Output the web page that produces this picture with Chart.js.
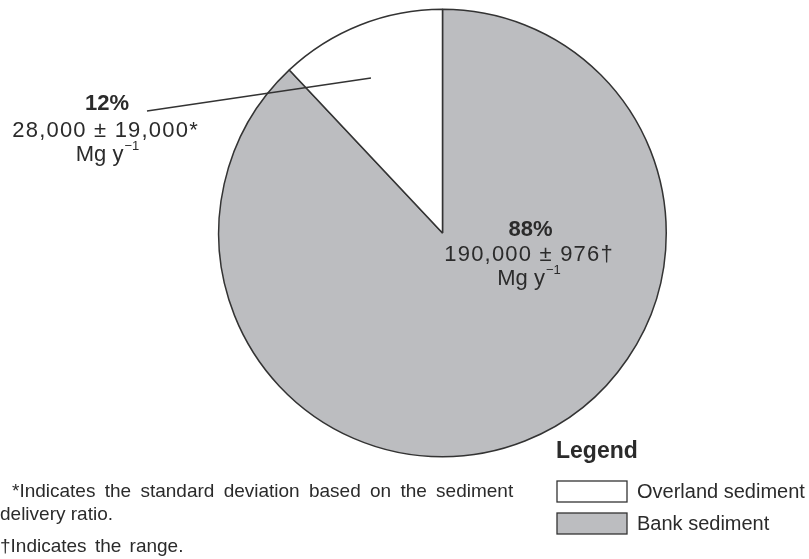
<!DOCTYPE html>
<html>
<head>
<meta charset="utf-8">
<script src="https://cdn.jsdelivr.net/npm/chart.js@4"></script>
<style>
  html, body { margin: 0; padding: 0; background: #fff; }
  #wrap { width: 809px; height: 559px; position: relative; }
</style>
</head>
<body>
<div id="wrap"><canvas id="graficoSedimento" width="809" height="559"></canvas></div>
<script>
// dados do gráfico (ordem no sentido horário a partir do topo)
const categorias = ['Bank sediment', 'Overland sediment'];
const percentuais = [88, 12];
const cargas = ['190,000 ± 976†', '28,000 ± 19,000*'];
const cores = ['#bcbdc0', '#ffffff'];
const legendaOrdem = ['Overland sediment', 'Bank sediment'];
const notas = ['*Indicates the standard deviation based on the sediment', 'delivery ratio.', '†Indicates the range.'];

const fonte = '"Liberation Sans", Arial, sans-serif';
const corTexto = '#2b2b2b';

// escreve "Mg y-1" com expoente menor
function unidade(ctx, cx, y, tam) {
  ctx.font = tam + 'px ' + fonte;
  const base = 'Mg y';
  const sup = '\u22121';
  const wBase = ctx.measureText(base).width;
  ctx.font = Math.round(tam * 0.6) + 'px ' + fonte;
  const wSup = ctx.measureText(sup).width;
  const x0 = cx - (wBase + wSup) / 2;
  ctx.textAlign = 'left';
  ctx.font = tam + 'px ' + fonte;
  ctx.fillText(base, x0, y);
  ctx.font = Math.round(tam * 0.6) + 'px ' + fonte;
  ctx.fillText(sup, x0 + wBase + 1, y - tam * 0.38);
  ctx.textAlign = 'center';
}

// texto com espaçamento extra entre letras
function espacado(ctx, txt, x, y, esp) {
  ctx.letterSpacing = esp + 'px';
  ctx.fillText(txt, x + esp / 2, y);
  ctx.letterSpacing = '0px';
}

const rotulos = {
  id: 'rotulos',
  afterDraw(chart) {
    const ctx = chart.ctx;
    const arco = chart.getDatasetMeta(0).data[0];
    const cx = arco.x, cy = arco.y;
    ctx.save();
    ctx.fillStyle = corTexto;
    ctx.textBaseline = 'middle';
    ctx.textAlign = 'center';

    // fatia grande
    ctx.font = 'bold 22px ' + fonte;
    ctx.fillText(percentuais[0] + '%', cx + 88, cy - 3);
    ctx.font = '22px ' + fonte;
    espacado(ctx, cargas[0], cx + 86, cy + 22, 1.2);
    unidade(ctx, cx + 86, cy + 46, 22);

    // fatia pequena com linha guia
    ctx.strokeStyle = '#333';
    ctx.lineWidth = 1.3;
    ctx.beginPath();
    ctx.moveTo(147, 111);
    ctx.lineTo(371, 78);
    ctx.stroke();
    ctx.font = 'bold 22px ' + fonte;
    ctx.fillText(percentuais[1] + '%', 107, 104);
    ctx.font = '22px ' + fonte;
    espacado(ctx, cargas[1], 105, 131, 1.2);
    unidade(ctx, 107, 155, 22);

    // notas de rodapé
    ctx.textAlign = 'left';
    ctx.font = '19px ' + fonte;
    ctx.wordSpacing = '4px';
    ctx.fillText(notas[0], 12, 492);
    ctx.wordSpacing = '0px';
    ctx.fillText(notas[1], 0, 515);
    ctx.wordSpacing = '3px';
    ctx.fillText(notas[2], 0, 547);
    ctx.wordSpacing = '0px';

    // legenda
    ctx.font = 'bold 23px ' + fonte;
    ctx.fillText('Legend', 556, 452);
    ctx.font = '20px ' + fonte;
    legendaOrdem.forEach((nome, i) => {
      const y = 481 + i * 32;
      ctx.fillStyle = cores[categorias.indexOf(nome)];
      ctx.fillRect(557, y, 70, 21);
      ctx.strokeStyle = '#333';
      ctx.lineWidth = 1.3;
      ctx.strokeRect(557, y, 70, 21);
      ctx.fillStyle = corTexto;
      ctx.fillText(nome, 637, y + 11);
    });
    ctx.restore();
  }
};

const ctx = document.getElementById('graficoSedimento').getContext('2d');
const meuGrafico = new Chart(ctx, {
  type: 'pie',
  data: {
    labels: categorias,
    datasets: [{
      data: percentuais,
      backgroundColor: cores,
      borderColor: '#333',
      borderWidth: 1.5,
      borderAlign: 'center'
    }]
  },
  options: {
    responsive: false,
    animation: false,
    layout: { padding: { left: 218, right: 142, top: 8, bottom: 101 } },
    plugins: {
      legend: { display: false },
      tooltip: { enabled: false }
    }
  },
  plugins: [rotulos]
});
</script>
</body>
</html>
